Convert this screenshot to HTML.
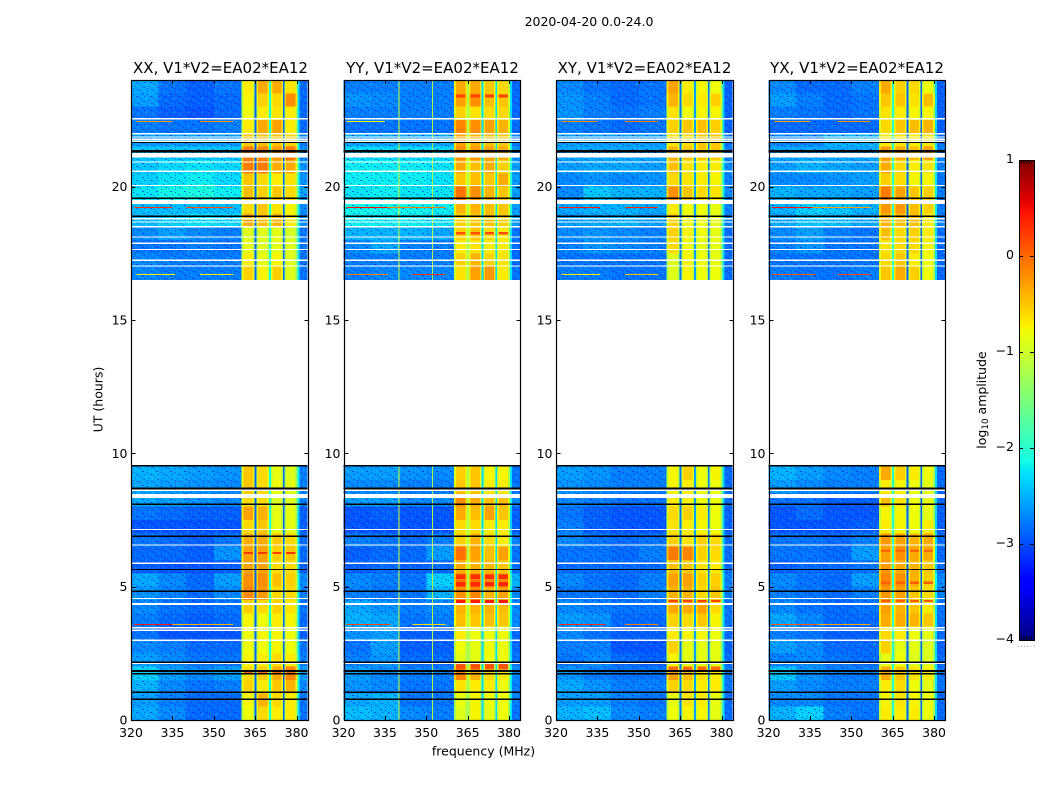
<!DOCTYPE html>
<html>
<head>
<meta charset="utf-8">
<title>2020-04-20 amplitude waterfall</title>
<style>
html,body{margin:0;padding:0;background:#fff;}
svg{display:block;font-family:"DejaVu Sans","Liberation Sans",sans-serif;fill:#000;}
</style>
</head>
<body>
<svg id="figure" xmlns="http://www.w3.org/2000/svg" width="1050" height="800" viewBox="0 0 1050 800">
  <defs>
    <pattern id="speckle" width="14" height="14" patternUnits="userSpaceOnUse">
      <rect x="1" y="1" width="1" height="1" fill="#0010e8" opacity=".6"/>
      <rect x="5" y="0" width="2" height="1" fill="#40d0ff" opacity=".35"/>
      <rect x="9" y="2" width="1" height="1" fill="#0010e8" opacity=".6"/>
      <rect x="12" y="1" width="1" height="2" fill="#40d0ff" opacity=".3"/>
      <rect x="3" y="3" width="2" height="1" fill="#0010e8" opacity=".5"/>
      <rect x="3" y="5" width="1" height="1" fill="#40d0ff" opacity=".4"/>
      <rect x="7" y="4" width="1" height="1" fill="#0010e8" opacity=".6"/>
      <rect x="11" y="5" width="2" height="1" fill="#0010e8" opacity=".5"/>
      <rect x="0" y="6" width="1" height="1" fill="#0010e8" opacity=".55"/>
      <rect x="5" y="7" width="1" height="1" fill="#40d0ff" opacity=".35"/>
      <rect x="7" y="7" width="1" height="1" fill="#0010e8" opacity=".5"/>
      <rect x="9" y="7" width="1" height="2" fill="#40d0ff" opacity=".3"/>
      <rect x="2" y="9" width="2" height="1" fill="#0010e8" opacity=".6"/>
      <rect x="7" y="10" width="1" height="1" fill="#0010e8" opacity=".6"/>
      <rect x="12" y="9" width="1" height="1" fill="#40d0ff" opacity=".4"/>
      <rect x="0" y="11" width="1" height="1" fill="#40d0ff" opacity=".35"/>
      <rect x="4" y="12" width="1" height="1" fill="#0010e8" opacity=".6"/>
      <rect x="10" y="12" width="2" height="1" fill="#0010e8" opacity=".55"/>
      <rect x="6" y="13" width="1" height="1" fill="#40d0ff" opacity=".35"/>
      <rect x="13" y="13" width="1" height="1" fill="#0010e8" opacity=".5"/>
    </pattern>
    <linearGradient id="jet-gradient" x1="0" y1="1" x2="0" y2="0"></linearGradient>
  </defs>

  <text x="589" y="26" font-size="12.5" text-anchor="middle">2020-04-20 0.0-24.0</text>
  <text x="220.5" y="73" font-size="15" text-anchor="middle">XX, V1*V2=EA02*EA12</text>
  <text x="432.5" y="73" font-size="15" text-anchor="middle">YY, V1*V2=EA02*EA12</text>
  <text x="644.5" y="73" font-size="15" text-anchor="middle">XY, V1*V2=EA02*EA12</text>
  <text x="857" y="73" font-size="15" text-anchor="middle">YX, V1*V2=EA02*EA12</text>
  <text transform="translate(102.5,399.5) rotate(-90)" font-size="12.5" text-anchor="middle">UT (hours)</text>
  <text x="483.5" y="755.5" font-size="12.5" text-anchor="middle">frequency (MHz)</text>
  <text transform="translate(986,400) rotate(-90)" font-size="12.5" text-anchor="middle">log<tspan font-size="8.8" dy="2">10</tspan><tspan dy="-2"> amplitude</tspan></text>

  <g id="panels"></g>
  <g id="colorbar"></g>
</svg>

<script>
// Time axis: start hour of each 0.5 h row with data
const rowStarts = [0,0.5,1,1.5,2,2.5,3,3.5,4,4.5,5,5.5,6,6.5,7,7.5,8,8.5,9,
                   16.5,17,17.5,18,18.5,19,19.5,20,20.5,21,21.5,22,22.5,23,23.5];
const xTicks = [320,335,350,365,380];
const yTicks = [0,5,10,15,20];
const colorbarTicks = [1,0,-1,-2,-3,-4];

// log10 amplitude per row: four low-band columns, four bright sub-bands, upper edge
const xxLevels = [
[-2.55,-2.7,-2.85,-2.85,-0.8,-0.6,-0.7,-0.7,-2.8],
[-2.6,-2.75,-2.85,-2.85,-0.75,-0.4,-0.6,-0.7,-2.8],
[-2.5,-2.7,-2.8,-2.75,-0.55,-0.7,-0.5,-0.4,-2.7],
[-2.35,-2.6,-2.7,-2.6,-0.6,-0.55,-0.35,-0.15,-2.6],
[-2.6,-2.7,-2.8,-2.8,-0.75,-0.7,-0.6,-0.7,-2.75],
[-2.7,-2.75,-2.85,-2.85,-0.8,-0.8,-0.75,-0.8,-2.8],
[-2.8,-2.95,-2.95,-2.95,-0.8,-0.75,-0.75,-0.8,-2.9],
[-2.75,-2.85,-2.9,-2.85,-0.75,-0.8,-0.7,-0.75,-2.85],
[-2.7,-2.8,-2.85,-2.8,-0.55,-0.6,-0.55,-0.65,-2.8],
[-2.65,-2.75,-2.85,-2.7,-0.15,-0.25,-0.6,-0.6,-2.75],
[-2.55,-2.7,-2.85,-2.6,-0.2,-0.2,-0.45,-0.55,-2.7],
[-2.9,-2.95,-2.95,-2.9,-0.3,-0.3,-0.6,-0.6,-2.9],
[-2.85,-2.85,-2.9,-2.65,-0.3,-0.3,-0.55,-0.5,-2.85],
[-2.8,-2.85,-2.9,-2.8,-0.35,-0.35,-0.5,-0.6,-2.85],
[-2.95,-2.95,-2.95,-2.95,-0.6,-0.5,-0.85,-0.85,-2.9],
[-2.8,-2.85,-2.9,-2.9,-0.3,-0.4,-0.85,-0.85,-2.9],
[-2.55,-2.6,-2.65,-2.7,-0.6,-0.6,-0.9,-0.9,-2.75],
[-2.55,-2.6,-2.65,-2.7,-0.5,-0.6,-0.8,-0.85,-2.75],
[-2.5,-2.55,-2.6,-2.65,-0.5,-0.6,-0.85,-0.9,-2.75],
[-2.7,-2.75,-2.75,-2.75,-0.55,-0.75,-0.55,-0.9,-2.8],
[-2.7,-2.75,-2.75,-2.75,-0.7,-0.85,-0.75,-0.9,-2.8],
[-2.8,-2.8,-2.75,-2.8,-0.85,-0.9,-0.85,-0.9,-2.8],
[-2.7,-2.6,-2.7,-2.75,-0.9,-0.9,-0.85,-0.95,-2.8],
[-2.45,-2.35,-2.25,-2.3,-0.35,-0.45,-0.4,-0.7,-2.7],
[-2.45,-2.45,-2.45,-2.45,-0.6,-0.5,-0.65,-0.75,-2.7],
[-2.25,-2.15,-2.1,-2.2,-0.45,-0.55,-0.5,-0.6,-2.6],
[-2.35,-2.25,-2.2,-2.3,-0.5,-0.6,-0.7,-0.65,-2.65],
[-2.4,-2.3,-2.25,-2.3,-0.1,-0.1,-0.35,-0.35,-2.65],
[-2.4,-2.4,-2.4,-2.4,-0.1,-0.15,-0.25,-0.1,-2.7],
[-2.6,-2.6,-2.6,-2.6,-0.5,-0.45,-0.45,-0.55,-2.75],
[-2.75,-2.8,-2.8,-2.75,-0.7,-0.35,-0.3,-0.7,-2.85],
[-2.8,-2.9,-2.95,-2.85,-0.8,-0.7,-0.65,-0.7,-2.85],
[-2.6,-2.85,-2.9,-2.85,-0.75,-0.55,-0.6,-0.2,-2.85],
[-2.55,-2.8,-2.9,-2.8,-0.7,-0.35,-0.35,-0.65,-2.85]
];
const yyLevels = [
[-2.45,-2.5,-2.7,-2.75,-0.9,-0.75,-0.85,-0.8,-2.8],
[-2.55,-2.5,-2.8,-2.8,-0.85,-0.75,-0.8,-0.8,-2.75],
[-2.65,-2.7,-2.8,-2.8,-0.65,-0.7,-0.7,-0.8,-2.75],
[-2.6,-2.7,-2.75,-2.75,-0.15,-0.4,-0.6,-0.7,-2.7],
[-2.75,-2.65,-2.85,-2.85,-0.85,-0.85,-0.8,-0.8,-2.8],
[-2.8,-2.6,-2.9,-2.9,-0.8,-0.85,-0.8,-0.8,-2.85],
[-2.65,-2.6,-2.9,-2.9,-0.7,-0.8,-0.8,-0.8,-2.85],
[-2.5,-2.55,-2.8,-2.75,-0.45,-0.5,-0.45,-0.5,-2.7],
[-2.55,-2.65,-2.75,-2.7,-0.4,-0.4,-0.4,-0.45,-2.7],
[-2.75,-2.8,-2.8,-2.5,-0.2,-0.15,-0.4,-0.3,-2.7],
[-2.7,-2.75,-2.8,-2.35,-0.1,-0.1,-0.2,-0.2,-2.5],
[-2.9,-2.85,-2.9,-2.85,-0.35,-0.4,-0.4,-0.5,-2.8],
[-2.9,-2.85,-2.85,-2.6,-0.05,-0.3,-0.45,-0.3,-2.8],
[-2.75,-2.8,-2.85,-2.75,-0.55,-0.4,-0.6,-0.7,-2.75],
[-2.95,-2.95,-2.95,-2.95,-0.6,-0.6,-0.7,-0.7,-2.9],
[-2.95,-2.9,-2.95,-2.95,-0.35,-0.45,-0.3,-0.5,-2.9],
[-2.6,-2.6,-2.7,-2.7,-0.2,-0.35,-0.45,-0.45,-2.7],
[-2.7,-2.7,-2.75,-2.75,-0.5,-0.5,-0.7,-0.7,-2.8],
[-2.6,-2.6,-2.65,-2.7,-0.55,-0.5,-0.75,-0.75,-2.8],
[-2.75,-2.7,-2.7,-2.7,-0.65,-0.3,-0.25,-0.7,-2.8],
[-2.75,-2.75,-2.75,-2.75,-0.55,-0.4,-0.55,-0.65,-2.85],
[-2.7,-2.55,-2.75,-2.75,-0.7,-0.65,-0.7,-0.7,-2.85],
[-2.5,-2.5,-2.5,-2.55,-0.55,-0.5,-0.6,-0.7,-2.8],
[-2.2,-2.2,-2.2,-2.25,-0.55,-0.5,-0.45,-0.55,-2.6],
[-2.15,-2.15,-2.15,-2.2,-0.4,-0.4,-0.45,-0.5,-2.6],
[-2.25,-2.2,-2.25,-2.25,-0.05,-0.2,-0.4,-0.5,-2.6],
[-2.2,-2.2,-2.2,-2.25,-0.5,-0.45,-0.5,-0.35,-2.6],
[-2.2,-2.2,-2.2,-2.25,-0.35,-0.45,-0.35,-0.55,-2.6],
[-2.3,-2.3,-2.3,-2.3,-0.2,-0.25,-0.3,-0.35,-2.65],
[-2.55,-2.55,-2.55,-2.55,-0.3,-0.4,-0.45,-0.5,-2.75],
[-2.8,-2.8,-2.8,-2.8,-0.15,-0.2,-0.3,-0.4,-2.85],
[-2.75,-2.75,-2.75,-2.75,-0.55,-0.65,-0.6,-0.6,-2.85],
[-2.65,-2.7,-2.75,-2.75,-0.3,-0.2,-0.45,-0.5,-2.85],
[-2.75,-2.75,-2.75,-2.75,-0.35,-0.35,-0.5,-0.6,-2.85]
];
const xyLevels = [
[-2.5,-2.45,-2.7,-2.75,-0.8,-0.75,-0.75,-0.85,-2.85],
[-2.6,-2.6,-2.75,-2.8,-0.85,-0.65,-0.7,-0.85,-2.85],
[-2.55,-2.65,-2.75,-2.75,-0.55,-0.6,-0.7,-0.7,-2.8],
[-2.65,-2.75,-2.8,-2.8,-0.3,-0.45,-0.65,-0.7,-2.8],
[-2.8,-2.7,-2.85,-2.9,-0.75,-0.85,-0.85,-0.85,-2.85],
[-2.75,-2.75,-2.95,-2.95,-0.55,-0.85,-0.85,-0.85,-2.9],
[-2.7,-2.8,-2.9,-2.9,-0.7,-0.75,-0.75,-0.8,-2.85],
[-2.6,-2.65,-2.85,-2.85,-0.55,-0.6,-0.5,-0.75,-2.8],
[-2.7,-2.75,-2.8,-2.8,-0.35,-0.35,-0.3,-0.6,-2.8],
[-2.8,-2.8,-2.85,-2.75,-0.4,-0.4,-0.6,-0.5,-2.75],
[-2.7,-2.8,-2.85,-2.75,-0.3,-0.3,-0.55,-0.55,-2.75],
[-2.85,-2.85,-2.85,-2.85,-0.45,-0.5,-0.65,-0.7,-2.85],
[-2.8,-2.8,-2.85,-2.75,-0.1,-0.15,-0.55,-0.6,-2.85],
[-2.7,-2.8,-2.85,-2.8,-0.55,-0.65,-0.55,-0.6,-2.85],
[-2.75,-2.9,-2.95,-2.95,-0.65,-0.7,-0.75,-0.8,-2.9],
[-2.8,-2.9,-2.95,-2.95,-0.6,-0.55,-0.7,-0.8,-2.9],
[-2.7,-2.75,-2.8,-2.8,-0.7,-0.75,-0.8,-0.8,-2.85],
[-2.65,-2.7,-2.75,-2.75,-0.75,-0.7,-0.8,-0.8,-2.85],
[-2.6,-2.65,-2.75,-2.75,-0.75,-0.55,-0.8,-0.75,-2.85],
[-2.75,-2.75,-2.8,-2.8,-0.9,-0.75,-0.8,-0.8,-2.85],
[-2.8,-2.8,-2.8,-2.8,-0.9,-0.75,-0.8,-0.85,-2.85],
[-2.75,-2.65,-2.7,-2.75,-0.6,-0.8,-0.85,-0.85,-2.85],
[-2.7,-2.65,-2.7,-2.75,-0.55,-0.75,-0.8,-0.85,-2.85],
[-2.6,-2.55,-2.5,-2.6,-0.55,-0.8,-0.8,-0.85,-2.75],
[-2.55,-2.5,-2.5,-2.55,-0.7,-0.8,-0.8,-0.85,-2.75],
[-2.7,-2.4,-2.5,-2.5,-0.2,-0.5,-0.6,-0.65,-2.7],
[-2.7,-2.65,-2.7,-2.65,-0.6,-0.65,-0.7,-0.75,-2.75],
[-2.6,-2.55,-2.55,-2.6,-0.45,-0.65,-0.7,-0.7,-2.7],
[-2.55,-2.55,-2.55,-2.55,-0.4,-0.5,-0.5,-0.5,-2.75],
[-2.6,-2.6,-2.6,-2.6,-0.65,-0.6,-0.5,-0.5,-2.8],
[-2.75,-2.8,-2.85,-2.8,-0.55,-0.5,-0.45,-0.55,-2.9],
[-2.65,-2.75,-2.8,-2.75,-0.65,-0.8,-0.75,-0.75,-2.9],
[-2.65,-2.75,-2.85,-2.8,-0.4,-0.6,-0.7,-0.55,-2.9],
[-2.7,-2.8,-2.85,-2.8,-0.3,-0.7,-0.75,-0.8,-2.9]
];
const yxLevels = [
[-2.5,-2.35,-2.75,-2.8,-0.7,-0.7,-0.7,-0.8,-2.85],
[-2.7,-2.7,-2.8,-2.8,-0.75,-0.65,-0.75,-0.8,-2.85],
[-2.6,-2.7,-2.75,-2.75,-0.7,-0.6,-0.8,-0.85,-2.8],
[-2.4,-2.65,-2.75,-2.75,-0.35,-0.5,-0.65,-0.7,-2.8],
[-2.75,-2.7,-2.8,-2.85,-0.85,-0.8,-0.9,-0.9,-2.85],
[-2.6,-2.7,-2.85,-2.85,-0.55,-0.85,-0.85,-0.9,-2.9],
[-2.75,-2.8,-2.9,-2.9,-0.6,-0.7,-0.8,-0.85,-2.85],
[-2.55,-2.7,-2.85,-2.85,-0.35,-0.35,-0.4,-0.5,-2.8],
[-2.7,-2.8,-2.85,-2.8,-0.3,-0.4,-0.5,-0.7,-2.8],
[-2.75,-2.8,-2.85,-2.75,-0.25,-0.3,-0.5,-0.6,-2.75],
[-2.7,-2.8,-2.85,-2.6,-0.15,-0.2,-0.4,-0.55,-2.7],
[-2.9,-2.85,-2.85,-2.8,-0.25,-0.35,-0.4,-0.5,-2.85],
[-2.8,-2.8,-2.85,-2.6,-0.3,-0.2,-0.35,-0.35,-2.85],
[-2.8,-2.8,-2.85,-2.75,-0.25,-0.3,-0.4,-0.35,-2.85],
[-2.95,-2.95,-2.95,-2.9,-0.7,-0.75,-0.8,-0.7,-2.9],
[-2.95,-2.85,-2.95,-2.95,-0.75,-0.75,-0.8,-0.85,-2.9],
[-2.8,-2.8,-2.9,-2.9,-0.45,-0.65,-0.8,-0.85,-2.85],
[-2.6,-2.7,-2.75,-2.75,-0.7,-0.75,-0.8,-0.85,-2.85],
[-2.5,-2.6,-2.7,-2.75,-0.35,-0.55,-0.7,-0.8,-2.85],
[-2.75,-2.8,-2.8,-2.75,-0.5,-0.35,-0.55,-0.8,-2.85],
[-2.8,-2.8,-2.8,-2.8,-0.6,-0.5,-0.7,-0.8,-2.85],
[-2.75,-2.65,-2.8,-2.8,-0.65,-0.6,-0.6,-0.75,-2.85],
[-2.7,-2.6,-2.75,-2.8,-0.45,-0.6,-0.55,-0.7,-2.85],
[-2.55,-2.4,-2.45,-2.55,-0.4,-0.45,-0.45,-0.7,-2.75],
[-2.5,-2.35,-2.4,-2.5,-0.25,-0.25,-0.45,-0.55,-2.75],
[-2.5,-2.55,-2.55,-2.6,-0.1,-0.3,-0.5,-0.55,-2.75],
[-2.7,-2.7,-2.65,-2.6,-0.55,-0.6,-0.75,-0.75,-2.8],
[-2.6,-2.5,-2.55,-2.6,-0.35,-0.6,-0.7,-0.65,-2.75],
[-2.55,-2.55,-2.55,-2.55,-0.25,-0.35,-0.45,-0.3,-2.75],
[-2.7,-2.7,-2.5,-2.5,-0.7,-0.65,-0.7,-0.65,-2.8],
[-2.85,-2.85,-2.85,-2.85,-0.6,-0.5,-0.45,-0.4,-2.9],
[-2.75,-2.8,-2.85,-2.8,-0.65,-0.7,-0.75,-0.75,-2.9],
[-2.6,-2.75,-2.85,-2.8,-0.5,-0.5,-0.65,-0.45,-2.9],
[-2.7,-2.85,-2.85,-2.75,-0.35,-0.55,-0.6,-0.8,-2.9]
];

// log10 amplitude in the three narrow gaps between sub-bands
const xxGaps = [-2.9,-2.1,-2.9];
const yyGaps = [-1.2,-2.3,-2.3];
const xyGaps = [-2.8,-2.6,-2.8];
const yxGaps = [-2.0,-2.9,-2.9];

// Narrow-band interference: hour, start MHz, end MHz, log10 amplitude
const xxLines = [[3.58,321,335,0.45],[3.58,335,357,-0.35],[22.44,322,335,-0.25],[22.44,345,357,-0.2],[19.22,321,335,0.3],[19.22,340,357,0.1],[16.7,322,336,-0.7],[16.7,345,357,-0.7]];
const yyLines = [[3.58,321,337,0.2],[3.58,345,357,-0.6],[22.44,321,335,-0.8],[19.22,321,336,0.45],[19.22,336,357,-0.1],[16.7,321,336,-0.1],[16.7,345,357,0.3]];
const xyLines = [[3.58,321,338,0.35],[3.58,345,357,-0.1],[22.44,322,335,-0.2],[22.44,345,357,-0.1],[19.22,321,336,0.4],[19.22,345,357,0.3],[16.7,322,336,-0.7],[16.7,345,357,-0.5]];
const yxLines = [[3.58,321,338,0.1],[3.58,338,357,-0.3],[22.44,322,335,-0.3],[22.44,345,357,-0.2],[19.22,321,336,0.45],[19.22,336,357,-0.3],[16.7,321,337,0.1],[16.7,345,357,0.2]];

// Short strong bursts in the sub-bands: start hour, end hour, log10 amplitude
const xxBursts = [[6.22,6.3,0.25],[1.75,1.8,0.0]];
const yyBursts = [[5.29,5.45,0.3],[5.0,5.17,0.35],[4.39,4.5,0.4],[1.9,2.1,0.1],[23.35,23.45,0.2],[18.2,18.3,0.15]];
const xyBursts = [[4.42,4.5,0.2],[1.8,2.0,0.0]];
const yxBursts = [[6.3,6.4,0.0],[5.1,5.2,0.05],[4.42,4.5,0.05]];

// Persistent interference channels visible in YY only
const yyRfiFreqs = [340,352];
const yyRfiValues = [-1.0,-1.2];

// Flagged time ranges [start hour, end hour], shared by every panel
const whiteFlags = [
[22.51,22.57],[21.96,22.01],[21.84,21.89],[21.75,21.8],[21.68,21.73],[21.09,21.27],[20.9,20.95],[20.55,20.6],[20.02,20.07],[19.35,19.5],
[18.77,18.82],[18.65,18.7],[18.47,18.53],[18.09,18.14],[17.85,17.9],[17.62,17.67],[17.21,17.26],[17.0,17.05],
[8.58,8.64],[8.33,8.48],[7.12,7.17],[6.54,6.59],[5.85,5.9],[4.53,4.58],[4.31,4.39],[3.43,3.48],[3.34,3.39],[2.97,3.02],[2.1,2.14]
];
const blackFlags = [
[21.63,21.68],[21.28,21.38],[19.54,19.59],[18.87,18.92],
[9.5,9.56],[8.64,8.72],[8.06,8.11],[6.86,6.91],[5.62,5.67],[4.8,4.85],[2.14,2.19],[1.8,1.875],[1.71,1.76],[1.01,1.07],[0.75,0.8]
];

// High-band channels: edges in MHz, owning sub-band (-1 gap, 4 upper edge), and bandpass roll-off
const channelEdges = [360,360.8,364.2,364.8,365.4,366,369.4,370,370.7,371.3,374.6,375,375.6,376.2,379.6,380.3,381,384];
const channelBand  = [0,0,0,-1,1,1,1,-1,2,2,2,-1,3,3,3,4,4];
const channelGap   = [0,0,0,0,0,0,0,1,0,0,0,2,0,0,0,0,0];
const channelRoll  = [-0.35,0,-0.35,0,-0.35,0,-0.3,0,-0.3,0,-0.3,0,-0.35,0,-0.45,0.55,0];
const subBandLow = [360.8,366,371.3,376.2];
const subBandHigh = [364.2,369.4,374.6,379.6];
const lowBandEdges = [320,330,340,350,360];

const panelKeys = ["xx","yy","xy","yx"];
const panelLevels = [xxLevels,yyLevels,xyLevels,yxLevels];
const panelGaps = [xxGaps,yyGaps,xyGaps,yxGaps];
const panelLines = [xxLines,yyLines,xyLines,yxLines];
const panelBursts = [xxBursts,yyBursts,xyBursts,yxBursts];
const panelRfiFreqs = [[],yyRfiFreqs,[],[]];
const panelRfiValues = [[],yyRfiValues,[],[]];

const SVGNS = "http://www.w3.org/2000/svg";
const PLOT_TOP = 80, PLOT_BOTTOM = 720, PLOT_WIDTH = 176.6;
const F_MIN = 320, F_MAX = 384, H_MAX = 24, V_MIN = -4, V_MAX = 1;
const CB_TOP = 160, CB_BOTTOM = 640, CB_LEFT = 1019, CB_RIGHT = 1034;

function panelLeft(i){ return 131 + 212.5 * i; }
function yScale(h){ return PLOT_BOTTOM - h * (PLOT_BOTTOM - PLOT_TOP) / H_MAX; }
function xScale(i, f){ return panelLeft(i) + (f - F_MIN) * PLOT_WIDTH / (F_MAX - F_MIN); }
function cbScale(v){ return CB_BOTTOM - (v - V_MIN) * (CB_BOTTOM - CB_TOP) / (V_MAX - V_MIN); }

function ramp(t, pts){
  for (let k = 1; k < pts.length; k++) {
    if (t <= pts[k][0]) {
      const a = pts[k-1], b = pts[k];
      return a[1] + (b[1] - a[1]) * (t - a[0]) / (b[0] - a[0]);
    }
  }
  return pts[pts.length-1][1];
}
function jet(v){
  const t = Math.max(0, Math.min(1, (v - V_MIN) / (V_MAX - V_MIN)));
  const r = ramp(t, [[0,0],[0.35,0],[0.66,1],[0.89,1],[1,0.5]]);
  const g = ramp(t, [[0,0],[0.125,0],[0.375,1],[0.64,1],[0.91,0],[1,0]]);
  const b = ramp(t, [[0,0.5],[0.11,1],[0.34,1],[0.65,0],[1,0]]);
  return "rgb(" + Math.round(r*255) + "," + Math.round(g*255) + "," + Math.round(b*255) + ")";
}
function make(tag, parent, attrs){
  const el = document.createElementNS(SVGNS, tag);
  for (const k in attrs) el.setAttribute(k, attrs[k]);
  parent.appendChild(el);
  return el;
}
function box(parent, x0, x1, y0, y1, fill){
  return make("rect", parent, {x:x0, y:y0, width:Math.max(0,x1-x0), height:Math.max(0,y1-y0), fill:fill, "shape-rendering":"crispEdges"});
}
function fmt(n){ return String(n).replace("-", "\u2212"); }

const panelsGroup = document.getElementById("panels");

panelKeys.forEach(function(key, i){
  const g = make("g", panelsGroup, {});
  
  

  const levels = panelLevels[i], gaps = panelGaps[i];

  rowStarts.forEach(function(h, r){
    const y0 = yScale(h + 0.5), y1 = yScale(h);
    for (let c = 0; c < lowBandEdges.length - 1; c++) {
      const cell = box(g, xScale(i, lowBandEdges[c]), xScale(i, lowBandEdges[c+1]), y0, y1, jet(levels[r][c]));
      
      
    }
    for (let c = 0; c < channelBand.length; c++) {
      const band = channelBand[c];
      const value = band < 0 ? gaps[channelGap[c]] : (band === 4 ? levels[r][8] : levels[r][4 + band]) + channelRoll[c];
      const cell = box(g, xScale(i, channelEdges[c]), xScale(i, channelEdges[c+1]), y0, y1, jet(value));
      
      
    }
  });

  panelBursts[i].forEach(function(row){
    subBandLow.forEach(function(f, k){
      const burst = box(g, xScale(i, f), xScale(i, subBandHigh[k]), yScale(row[1]), yScale(row[0]), jet(row[2]));
      
      
    });
  });

  // decorative pixel-scale grain over the low band
  [[0,9.5],[16.5,24]].forEach(function(span){
    const grain = box(g, xScale(i, 320), xScale(i, 360), yScale(span[1]), yScale(span[0]), "url(#speckle)");
    
    
    const grainHigh = box(g, xScale(i, 381), xScale(i, 384), yScale(span[1]), yScale(span[0]), "url(#speckle)");
    
    
  });

  panelRfiFreqs[i].forEach(function(f, k){
    [[0,9.5],[16.5,24]].forEach(function(span){
      const line = box(g, xScale(i, f), xScale(i, f) + 1, yScale(span[1]), yScale(span[0]), jet(panelRfiValues[i][k]));
      
      
    });
  });

  panelLines[i].forEach(function(row){
    const line = box(g, xScale(i, row[1]), xScale(i, row[2]), yScale(row[0] + 0.02), yScale(row[0] - 0.02), jet(row[3]));
    
    
  });

  whiteFlags.forEach(function(f){
    const flag = box(g, panelLeft(i), panelLeft(i) + PLOT_WIDTH, yScale(f[1]), yScale(f[0]), "#fff");
    
    
  });
  blackFlags.forEach(function(f){
    const flag = box(g, panelLeft(i), panelLeft(i) + PLOT_WIDTH, yScale(f[1]), yScale(f[0]), "#000");
    
    
  });

  const L = Math.round(panelLeft(i)) + 0.5, R = Math.round(panelLeft(i) + PLOT_WIDTH) + 0.5;

  xTicks.forEach(function(f){
    const x = Math.round(xScale(i, f)) + 0.5;
    const bottom = make("line", g, {x1:x, x2:x, y1:PLOT_BOTTOM, y2:PLOT_BOTTOM-4, stroke:"#000", "stroke-width":1});
    
    
    const top = make("line", g, {x1:x, x2:x, y1:PLOT_TOP, y2:PLOT_TOP+4, stroke:"#000", "stroke-width":1});
    
    
    const label = make("text", g, {x:xScale(i, f), y:737, "font-size":12.5, "text-anchor":"middle"});
    
    
    label.textContent = fmt(f);
  });
  yTicks.forEach(function(h){
    const y = Math.round(yScale(h)) + 0.5;
    const left = make("line", g, {x1:L, x2:L+4, y1:y, y2:y, stroke:"#000", "stroke-width":1});
    
    
    const right = make("line", g, {x1:R, x2:R-4, y1:y, y2:y, stroke:"#000", "stroke-width":1});
    
    
    const label = make("text", g, {x:L-4, y:yScale(h)+4.5, "font-size":12.5, "text-anchor":"end"});
    
    
    label.textContent = fmt(h);
  });

  const frame = make("rect", g, {x:L, y:PLOT_TOP+0.5, width:R-L, height:PLOT_BOTTOM-PLOT_TOP, fill:"none", stroke:"#000", "stroke-width":1.2});
  
  
});

// Colorbar
const gradient = document.getElementById("jet-gradient");
const GRADIENT_STEPS = 64;
for (let s = 0; s <= GRADIENT_STEPS; s++) {
  make("stop", gradient, {offset:s / GRADIENT_STEPS, "stop-color":jet(V_MIN + (V_MAX - V_MIN) * s / GRADIENT_STEPS)});
}
const cb = document.getElementById("colorbar");
const cbFill = make("rect", cb, {x:CB_LEFT, y:CB_TOP, width:CB_RIGHT-CB_LEFT, height:CB_BOTTOM-CB_TOP, fill:"url(#jet-gradient)"});


colorbarTicks.forEach(function(v){
  const y = Math.round(cbScale(v)) + 0.5;
  const tl = make("line", cb, {x1:CB_LEFT, x2:CB_LEFT+4, y1:y, y2:y, stroke:"#000", "stroke-width":1});
  
  
  const tr = make("line", cb, {x1:CB_RIGHT, x2:CB_RIGHT-4, y1:y, y2:y, stroke:"#000", "stroke-width":1});
  
  
  const label = make("text", cb, {x:CB_LEFT-5, y:cbScale(v)+3, "font-size":12.5, "text-anchor":"end"});
  
  
  label.textContent = fmt(v);
});
[0,1,2,3,4].forEach(function(k){
  const x = CB_LEFT + 2.5 + k * 2.5;
  const up = make("line", cb, {x1:x, x2:x, y1:CB_TOP, y2:CB_TOP+4, stroke:"#000", "stroke-width":0.8});
  
  
  const down = make("line", cb, {x1:x, x2:x, y1:CB_BOTTOM, y2:CB_BOTTOM-4, stroke:"#000", "stroke-width":0.8});
  
  
});
[0,1,2,3,4,5].forEach(function(k){
  const dot = make("rect", cb, {x:1017.5 + k * 3.2, y:645.8, width:1, height:1, fill:"#999"});
  
  
});
const cbFrame = make("rect", cb, {x:CB_LEFT+0.5, y:CB_TOP+0.5, width:CB_RIGHT-CB_LEFT, height:CB_BOTTOM-CB_TOP, fill:"none", stroke:"#000", "stroke-width":1});


</script>
</body>
</html>
